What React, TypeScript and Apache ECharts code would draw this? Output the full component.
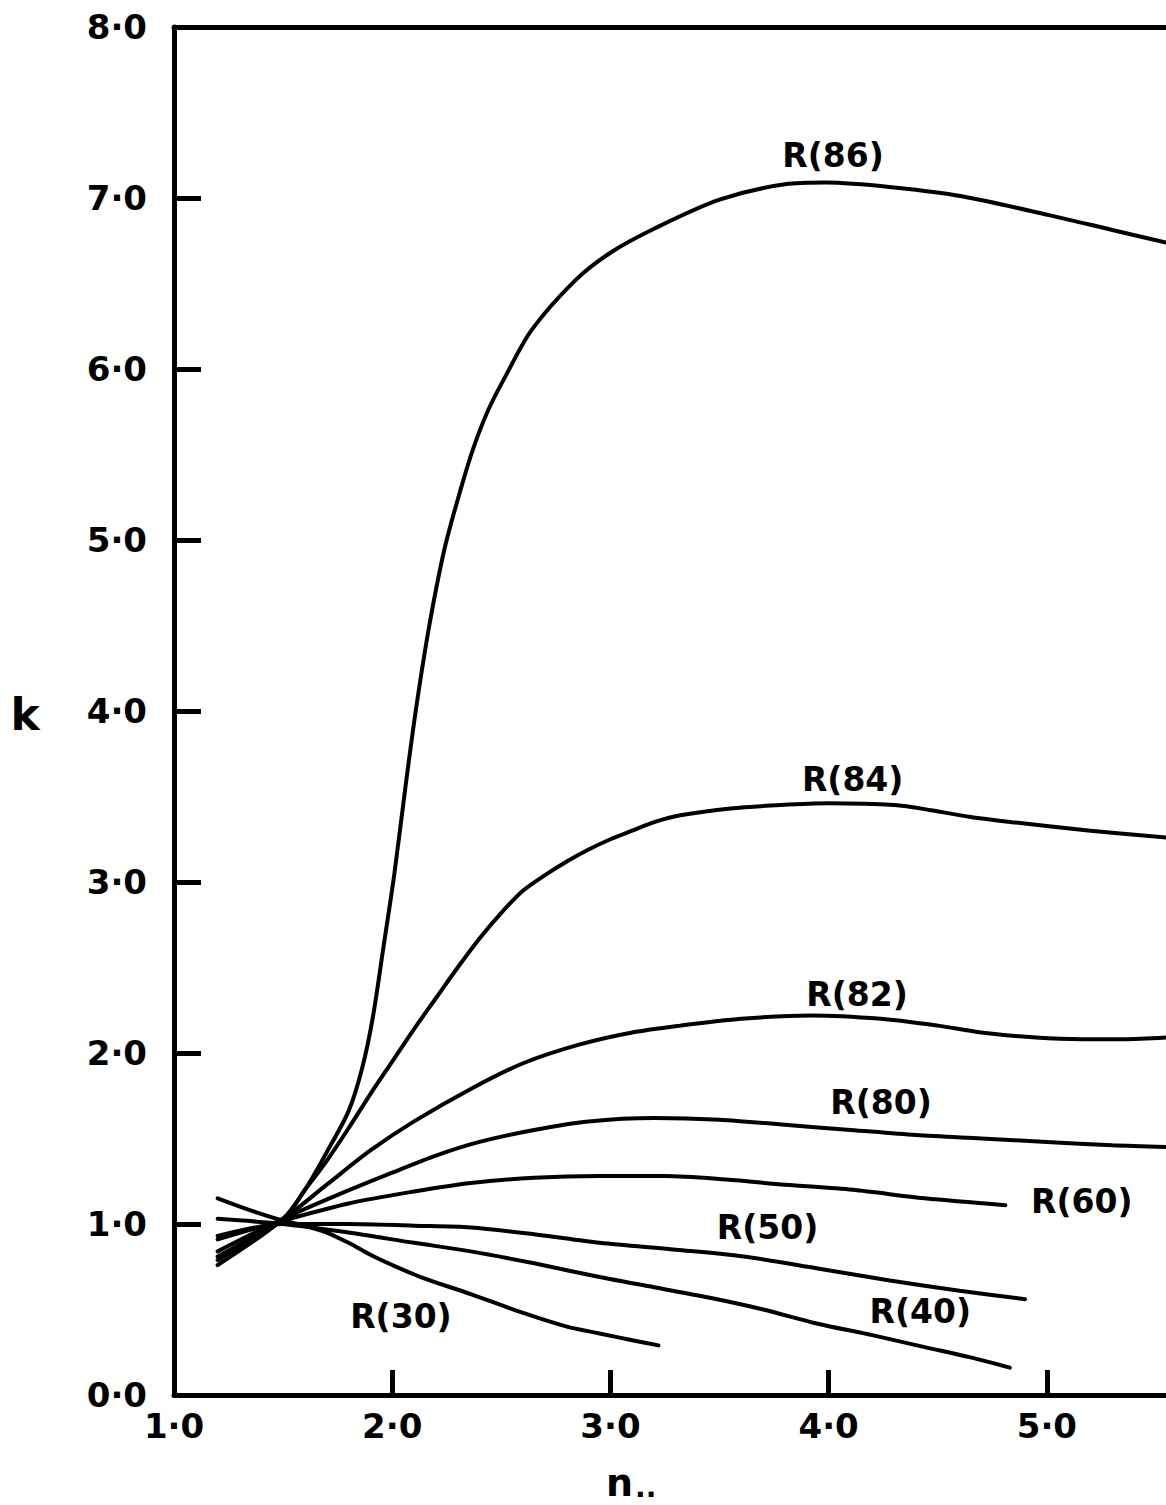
import React, { useEffect, useRef } from "react";
import * as echarts from "echarts";

// Axis ticks
const xTicks = [1, 2, 3, 4, 5];
const yTicks = [0, 1, 2, 3, 4, 5, 6, 7, 8];
const xMin = 1;
const xMax = 5.546;

// Curves (n, k)
const r86X = [1.2, 1.5, 1.6, 1.7, 1.8, 1.86, 1.91, 1.96, 2.01, 2.06, 2.11, 2.17, 2.24, 2.31, 2.37, 2.44, 2.52, 2.64, 2.84, 3.0, 3.2, 3.5, 3.8, 3.99, 4.31, 4.61, 5.01, 5.31, 5.546];
const r86Y = [0.76, 1.03, 1.2, 1.42, 1.66, 1.9, 2.2, 2.62, 3.05, 3.55, 4.02, 4.5, 4.95, 5.28, 5.53, 5.76, 5.96, 6.23, 6.52, 6.68, 6.82, 6.99, 7.08, 7.09, 7.06, 7.01, 6.9, 6.81, 6.74];

const r84X = [1.2, 1.5, 1.6, 1.7, 1.8, 1.9, 2.0, 2.1, 2.2, 2.3, 2.4, 2.5, 2.6, 2.7, 2.8, 2.9, 3.0, 3.1, 3.2, 3.32, 3.55, 3.78, 4.0, 4.3, 4.47, 4.65, 4.84, 5.2, 5.546];
const r84Y = [0.79, 1.03, 1.2, 1.37, 1.56, 1.76, 1.95, 2.14, 2.32, 2.5, 2.67, 2.82, 2.95, 3.04, 3.12, 3.19, 3.25, 3.3, 3.35, 3.39, 3.43, 3.45, 3.46, 3.45, 3.42, 3.38, 3.35, 3.3, 3.26];

const r82X = [1.2, 1.5, 1.7, 1.9, 2.1, 2.36, 2.6, 2.86, 3.1, 3.32, 3.6, 3.92, 4.24, 4.5, 4.7, 4.95, 5.16, 5.35, 5.546];
const r82Y = [0.81, 1.03, 1.23, 1.43, 1.6, 1.79, 1.94, 2.05, 2.12, 2.16, 2.2, 2.22, 2.2, 2.16, 2.12, 2.09, 2.08, 2.08, 2.09];

const r80X = [1.2, 1.5, 1.75, 2.0, 2.2, 2.4, 2.65, 2.9, 3.2, 3.5, 3.8, 4.1, 4.4, 4.7, 5.0, 5.3, 5.546];
const r80Y = [0.84, 1.03, 1.17, 1.3, 1.4, 1.48, 1.55, 1.6, 1.62, 1.61, 1.58, 1.55, 1.52, 1.5, 1.48, 1.46, 1.45];

const r60X = [1.2, 1.5, 1.8, 2.1, 2.36, 2.65, 2.95, 3.25, 3.53, 3.8, 4.11, 4.44, 4.81];
const r60Y = [0.91, 1.02, 1.12, 1.19, 1.24, 1.27, 1.28, 1.28, 1.26, 1.23, 1.2, 1.15, 1.11];

const r50X = [1.2, 1.5, 1.8, 2.1, 2.36, 2.65, 2.95, 3.3, 3.61, 3.95, 4.28, 4.6, 4.9];
const r50Y = [0.93, 1.0, 1.0, 0.99, 0.98, 0.94, 0.89, 0.85, 0.81, 0.74, 0.67, 0.61, 0.56];

const r40X = [1.2, 1.5, 1.8, 2.1, 2.36, 2.65, 2.95, 3.2, 3.45, 3.7, 3.94, 4.2, 4.44, 4.65, 4.83];
const r40Y = [1.03, 1.0, 0.95, 0.89, 0.84, 0.77, 0.69, 0.63, 0.57, 0.5, 0.42, 0.35, 0.28, 0.22, 0.16];

const r30X = [1.2, 1.35, 1.5, 1.6, 1.7, 1.8, 1.9, 2.0, 2.13, 2.36, 2.6, 2.8, 2.95, 3.1, 3.22];
const r30Y = [1.15, 1.08, 1.02, 0.99, 0.95, 0.89, 0.82, 0.76, 0.69, 0.59, 0.48, 0.4, 0.36, 0.32, 0.29];

// Curve labels and where they sit (data units)
const curveNames = ["R(86)", "R(84)", "R(82)", "R(80)", "R(60)", "R(50)", "R(40)", "R(30)"];
const labelX = [4.02, 4.11, 4.13, 4.24, 5.16, 3.72, 4.42, 2.04];
const labelY = [7.25, 3.6, 2.34, 1.71, 1.13, 0.98, 0.49, 0.46];

const curveXs = [r86X, r84X, r82X, r80X, r60X, r50X, r40X, r30X];
const curveYs = [r86Y, r84Y, r82Y, r80Y, r60Y, r50Y, r40Y, r30Y];

const FONT = "DejaVu Sans";
const fmt = (v: number) => v.toFixed(1).replace(".", "\u00B7");

export default function App() {
  const ref = useRef<HTMLDivElement>(null);

  useEffect(() => {
    if (!ref.current) return;
    const chart = echarts.init(ref.current, null, { renderer: "svg" });

    const lineSeries = curveNames.map((name, i) => ({
      name,
      type: "line",
      data: curveXs[i].map((x, j) => [x, curveYs[i][j]]),
      smooth: 0.3,
      symbol: "none",
      clip: false,
      lineStyle: { color: "#000", width: 4, cap: "round" },
      silent: true,
    }));

    const option: any = {
      animation: false,
      backgroundColor: "#fff",
      grid: { left: 174, top: 27, right: 0, bottom: 110, containLabel: false },
      xAxis: [
        {
          type: "value",
          min: xMin,
          max: xMax,
          interval: 1,
          axisLine: { show: true, onZero: false, lineStyle: { color: "#000", width: 5 } },
          axisTick: { show: true, inside: true, length: 25, lineStyle: { color: "#000", width: 5 } },
          splitLine: { show: false },
          axisLabel: {
            color: "#000",
            fontSize: 34,
            fontWeight: "bold",
            fontFamily: FONT,
            margin: 14,
            showMaxLabel: false,
            formatter: (v: number) => (xTicks.includes(Math.round(v * 1000) / 1000) ? fmt(v) : ""),
          },
        },
        {
          type: "value",
          position: "top",
          min: xMin,
          max: xMax,
          interval: 1,
          axisLine: { show: true, onZero: false, lineStyle: { color: "#000", width: 5 } },
          axisTick: { show: false },
          axisLabel: { show: false },
          splitLine: { show: false },
        },
      ],
      yAxis: {
        type: "value",
        min: 0,
        max: 8,
        interval: 1,
        axisLine: { show: true, onZero: false, lineStyle: { color: "#000", width: 5 } },
        axisTick: { show: true, inside: true, length: 27, lineStyle: { color: "#000", width: 5 } },
        splitLine: { show: false },
        axisLabel: {
          color: "#000",
          fontSize: 34,
          fontWeight: "bold",
          fontFamily: FONT,
          margin: 27,
          formatter: (v: number) => (yTicks.includes(Math.round(v)) ? fmt(v) : ""),
        },
      },
      series: [
        ...lineSeries,
        {
          type: "scatter",
          symbolSize: 0,
          silent: true,
          clip: false,
          itemStyle: { color: "#000", opacity: 1 },
          data: curveNames.map((n, i) => ({ name: n, value: [labelX[i], labelY[i]] })),
          label: {
            show: true,
            position: "inside",
            formatter: (p: any) => p.name,
            color: "#000",
            opacity: 1,
            fontSize: 33,
            fontWeight: "bold",
            fontFamily: FONT,
          },
        },
      ],
      graphic: [
        {
          type: "text",
          x: 25,
          y: 714,
          style: {
            text: "k",
            fill: "#000",
            font: `bold 44px "${FONT}"`,
            textAlign: "center",
            textVerticalAlign: "middle",
          },
        },
        {
          type: "text",
          x: 606,
          y: 1483,
          style: {
            text: "n",
            fill: "#000",
            font: `bold 38px "${FONT}"`,
            textAlign: "left",
            textVerticalAlign: "middle",
          },
        },
        {
          type: "text",
          x: 635,
          y: 1487,
          style: {
            text: "..",
            fill: "#000",
            font: `bold 28px "${FONT}"`,
            textAlign: "left",
            textVerticalAlign: "middle",
          },
        },
      ],
    };

    chart.setOption(option);
    return () => chart.dispose();
  }, []);

  return (
    <div
      ref={ref}
      style={{ position: "absolute", left: 0, top: 0, width: 1166, height: 1505, background: "#fff" }}
    />
  );
}
